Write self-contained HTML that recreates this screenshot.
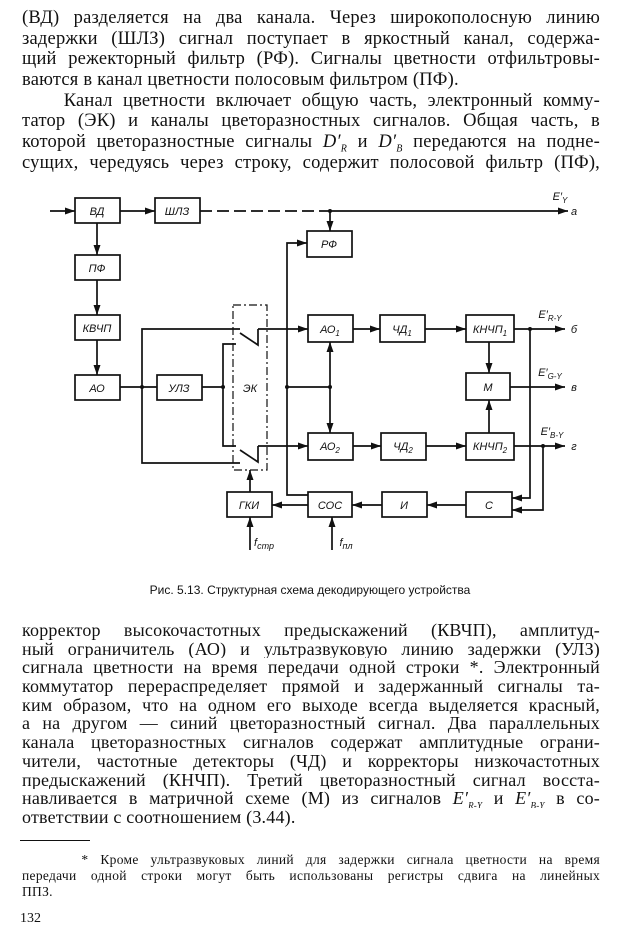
<!DOCTYPE html>
<html><head><meta charset="utf-8"><style>
body{margin:0;width:620px;height:935px;background:#fff;position:relative;overflow:hidden;font-family:"Liberation Serif",serif;color:#111}
.t{position:absolute;left:22px;width:578px;font-size:18.5px;letter-spacing:0.2px}
.t div{height:20.7px;line-height:20.7px;text-align:justify;text-align-last:justify;white-space:nowrap;overflow:hidden}
.b{font-size:18px}
.b div{height:18.7px;line-height:18.7px}
.fn{letter-spacing:0.3px}
.fn div{height:16px;line-height:16px;font-size:13.5px}
svg{position:absolute;left:0;top:0}
svg text{font-family:"Liberation Sans",sans-serif;font-style:italic;font-size:11px;text-anchor:middle}
</style></head><body>
<div class="t" style="top:8px">
<div>(ВД) разделяется на два канала. Через широкополосную линию</div>
<div>задержки (ШЛЗ) сигнал поступает в яркостный канал, содержа-</div>
<div>щий режекторный фильтр (РФ). Сигналы цветности отфильтровы-</div>
<div style="text-align-last:left">ваются в канал цветности полосовым фильтром (ПФ).</div>
<div>&nbsp;&nbsp;&nbsp;&nbsp;Канал цветности включает общую часть, электронный комму-</div>
<div>татор (ЭК) и каналы цветоразностных сигналов. Общая часть, в</div>
<div>которой цветоразностные сигналы <i>D′<sub style="font-size:10px">R</sub></i> и <i>D′<sub style="font-size:10px">B</sub></i> передаются на подне-</div>
<div>сущих, чередуясь через строку, содержит полосовой фильтр (ПФ),</div>
</div>

<svg width="620" height="600" viewBox="0 0 620 600" fill="none" stroke="#111" stroke-width="1.7">
<defs><marker id="a" viewBox="0 0 10 10" refX="10" refY="5" markerWidth="6" markerHeight="6" orient="auto"><path d="M0,1.5L10,5L0,8.5z" fill="#111" stroke="none"/></marker></defs>
<g>
<rect x="75" y="198" width="45" height="25"/>
<rect x="155" y="198" width="45" height="25"/>
<rect x="307" y="231" width="45" height="26"/>
<rect x="75" y="255" width="45" height="25"/>
<rect x="75" y="315" width="45" height="25"/>
<rect x="75" y="375" width="45" height="25"/>
<rect x="157" y="375" width="45" height="25"/>
<rect x="308" y="315" width="45" height="27"/>
<rect x="380" y="315" width="45" height="27"/>
<rect x="466" y="315" width="48" height="27"/>
<rect x="466" y="373" width="44" height="27"/>
<rect x="308" y="433" width="45" height="27"/>
<rect x="381" y="433" width="45" height="27"/>
<rect x="466" y="433" width="48" height="27"/>
<rect x="227" y="492" width="45" height="25"/>
<rect x="308" y="492" width="44" height="25"/>
<rect x="382" y="492" width="45" height="25"/>
<rect x="466" y="492" width="46" height="25"/>
<rect x="233" y="305" width="34" height="165" stroke-dasharray="8,3,2,3" stroke-width="1.2"/>
</g>
<g>
<line x1="50" y1="211" x2="75" y2="211" marker-end="url(#a)"/>
<line x1="120" y1="211" x2="155" y2="211" marker-end="url(#a)"/>
<line x1="200" y1="211" x2="330" y2="211" stroke-dasharray="12,5"/>
<line x1="330" y1="211" x2="568" y2="211" marker-end="url(#a)"/>
<line x1="330" y1="211" x2="330" y2="231" marker-end="url(#a)"/>
<line x1="97" y1="223" x2="97" y2="255" marker-end="url(#a)"/>
<line x1="97" y1="280" x2="97" y2="315" marker-end="url(#a)"/>
<line x1="97" y1="340" x2="97" y2="375" marker-end="url(#a)"/>
<line x1="120" y1="387" x2="157" y2="387"/>
<line x1="202" y1="387" x2="223" y2="387"/>
<polyline points="240,329 142,329 142,463 240,463"/>
<polyline points="236,344 223,344 223,446 236,446"/>
<polyline points="240,333 258,345 258,329"/>
<polyline points="240,450 258,462 258,446"/>
<line x1="258" y1="329" x2="308" y2="329" marker-end="url(#a)"/>
<line x1="258" y1="446" x2="308" y2="446" marker-end="url(#a)"/>
<polyline points="308,495 287,495 287,243 307,243" marker-end="url(#a)"/>
<line x1="287" y1="387" x2="330" y2="387"/>
<line x1="330" y1="387" x2="330" y2="342" marker-end="url(#a)"/>
<line x1="330" y1="387" x2="330" y2="433" marker-end="url(#a)"/>
<line x1="308" y1="505" x2="272" y2="505" marker-end="url(#a)"/>
<line x1="250" y1="492" x2="250" y2="470" marker-end="url(#a)"/>
<line x1="250" y1="550" x2="250" y2="517" marker-end="url(#a)"/>
<line x1="332" y1="550" x2="332" y2="517" marker-end="url(#a)"/>
<line x1="353" y1="329" x2="380" y2="329" marker-end="url(#a)"/>
<line x1="425" y1="329" x2="466" y2="329" marker-end="url(#a)"/>
<line x1="353" y1="446" x2="381" y2="446" marker-end="url(#a)"/>
<line x1="426" y1="446" x2="466" y2="446" marker-end="url(#a)"/>
<line x1="514" y1="329" x2="565" y2="329" marker-end="url(#a)"/>
<line x1="514" y1="446" x2="565" y2="446" marker-end="url(#a)"/>
<line x1="510" y1="387" x2="565" y2="387" marker-end="url(#a)"/>
<line x1="489" y1="342" x2="489" y2="373" marker-end="url(#a)"/>
<line x1="489" y1="433" x2="489" y2="400" marker-end="url(#a)"/>
<polyline points="530,329 530,498 512,498" marker-end="url(#a)"/>
<polyline points="543,446 543,510 512,510" marker-end="url(#a)"/>
<line x1="466" y1="505" x2="427" y2="505" marker-end="url(#a)"/>
<line x1="382" y1="505" x2="352" y2="505" marker-end="url(#a)"/>
</g>
<g fill="#111" stroke="none">
<circle cx="330" cy="211" r="2"/><circle cx="142" cy="387" r="2"/><circle cx="223" cy="387" r="2"/>
<circle cx="287" cy="387" r="2"/><circle cx="330" cy="387" r="2"/><circle cx="530" cy="329" r="2"/><circle cx="543" cy="446" r="2"/>
<text x="97" y="215">ВД</text><text x="177" y="215">ШЛЗ</text><text x="329" y="248">РФ</text>
<text x="97" y="272">ПФ</text><text x="97" y="332">КВЧП</text><text x="97" y="392">АО</text>
<text x="179" y="392">УЛЗ</text><text x="250" y="392">ЭК</text>
<text x="330" y="333">АО<tspan font-size="8" dy="3">1</tspan></text>
<text x="402" y="333">ЧД<tspan font-size="8" dy="3">1</tspan></text>
<text x="490" y="333" font-size="10">КНЧП<tspan font-size="8" dy="3">1</tspan></text>
<text x="488" y="391">М</text>
<text x="330" y="450">АО<tspan font-size="8" dy="3">2</tspan></text>
<text x="403" y="450">ЧД<tspan font-size="8" dy="3">2</tspan></text>
<text x="490" y="450" font-size="10">КНЧП<tspan font-size="8" dy="3">2</tspan></text>
<text x="249" y="509">ГКИ</text><text x="330" y="509">СОС</text><text x="404" y="509">И</text><text x="489" y="509">С</text>
<text x="560" y="200">E′<tspan font-size="8" dy="3">Y</tspan></text>
<text x="574" y="215" font-size="13">а</text>
<text x="550" y="318">E′<tspan font-size="8" dy="3">R-Y</tspan></text>
<text x="574" y="333" font-size="13">б</text>
<text x="550" y="376">E′<tspan font-size="8" dy="3">G-Y</tspan></text>
<text x="574" y="391" font-size="13">в</text>
<text x="552" y="435">E′<tspan font-size="8" dy="3">B-Y</tspan></text>
<text x="574" y="450" font-size="13">г</text>
<text x="264" y="546" font-size="13">f<tspan font-size="9" dy="3">стр</tspan></text>
<text x="346" y="546" font-size="13">f<tspan font-size="9" dy="3">пл</tspan></text>
<text x="310" y="594" style="font-style:normal;font-size:12px">Рис. 5.13. Структурная схема декодирующего устройства</text>
</g>
</svg>

<div class="t b" style="top:621px">
<div>корректор высокочастотных предыскажений (КВЧП), амплитуд-</div>
<div>ный ограничитель (АО) и ультразвуковую линию задержки (УЛЗ)</div>
<div>сигнала цветности на время передачи одной строки *. Электронный</div>
<div>коммутатор перераспределяет прямой и задержанный сигналы та-</div>
<div>ким образом, что на одном его выходе всегда выделяется красный,</div>
<div>а на другом — синий цветоразностный сигнал. Два параллельных</div>
<div>канала цветоразностных сигналов содержат амплитудные ограни-</div>
<div>чители, частотные детекторы (ЧД) и корректоры низкочастотных</div>
<div>предыскажений (КНЧП). Третий цветоразностный сигнал восста-</div>
<div>навливается в матричной схеме (М) из сигналов <i>E′<sub style="font-size:9px">R-Y</sub></i> и <i>E′<sub style="font-size:9px">B-Y</sub></i> в со-</div>
<div style="text-align-last:left">ответствии с соотношением (3.44).</div>
</div>
<div style="position:absolute;left:20px;top:840px;width:70px;border-top:1px solid #111"></div>
<div class="t fn" style="top:852px">
<div>&nbsp;&nbsp;&nbsp;&nbsp;&nbsp;* Кроме ультразвуковых линий для задержки сигнала цветности на время</div>
<div>передачи одной строки могут быть использованы регистры сдвига на линейных</div>
<div style="text-align-last:left">ППЗ.</div>
</div>
<div style="position:absolute;left:20px;top:911px;font-size:14px">132</div>
</body></html>
